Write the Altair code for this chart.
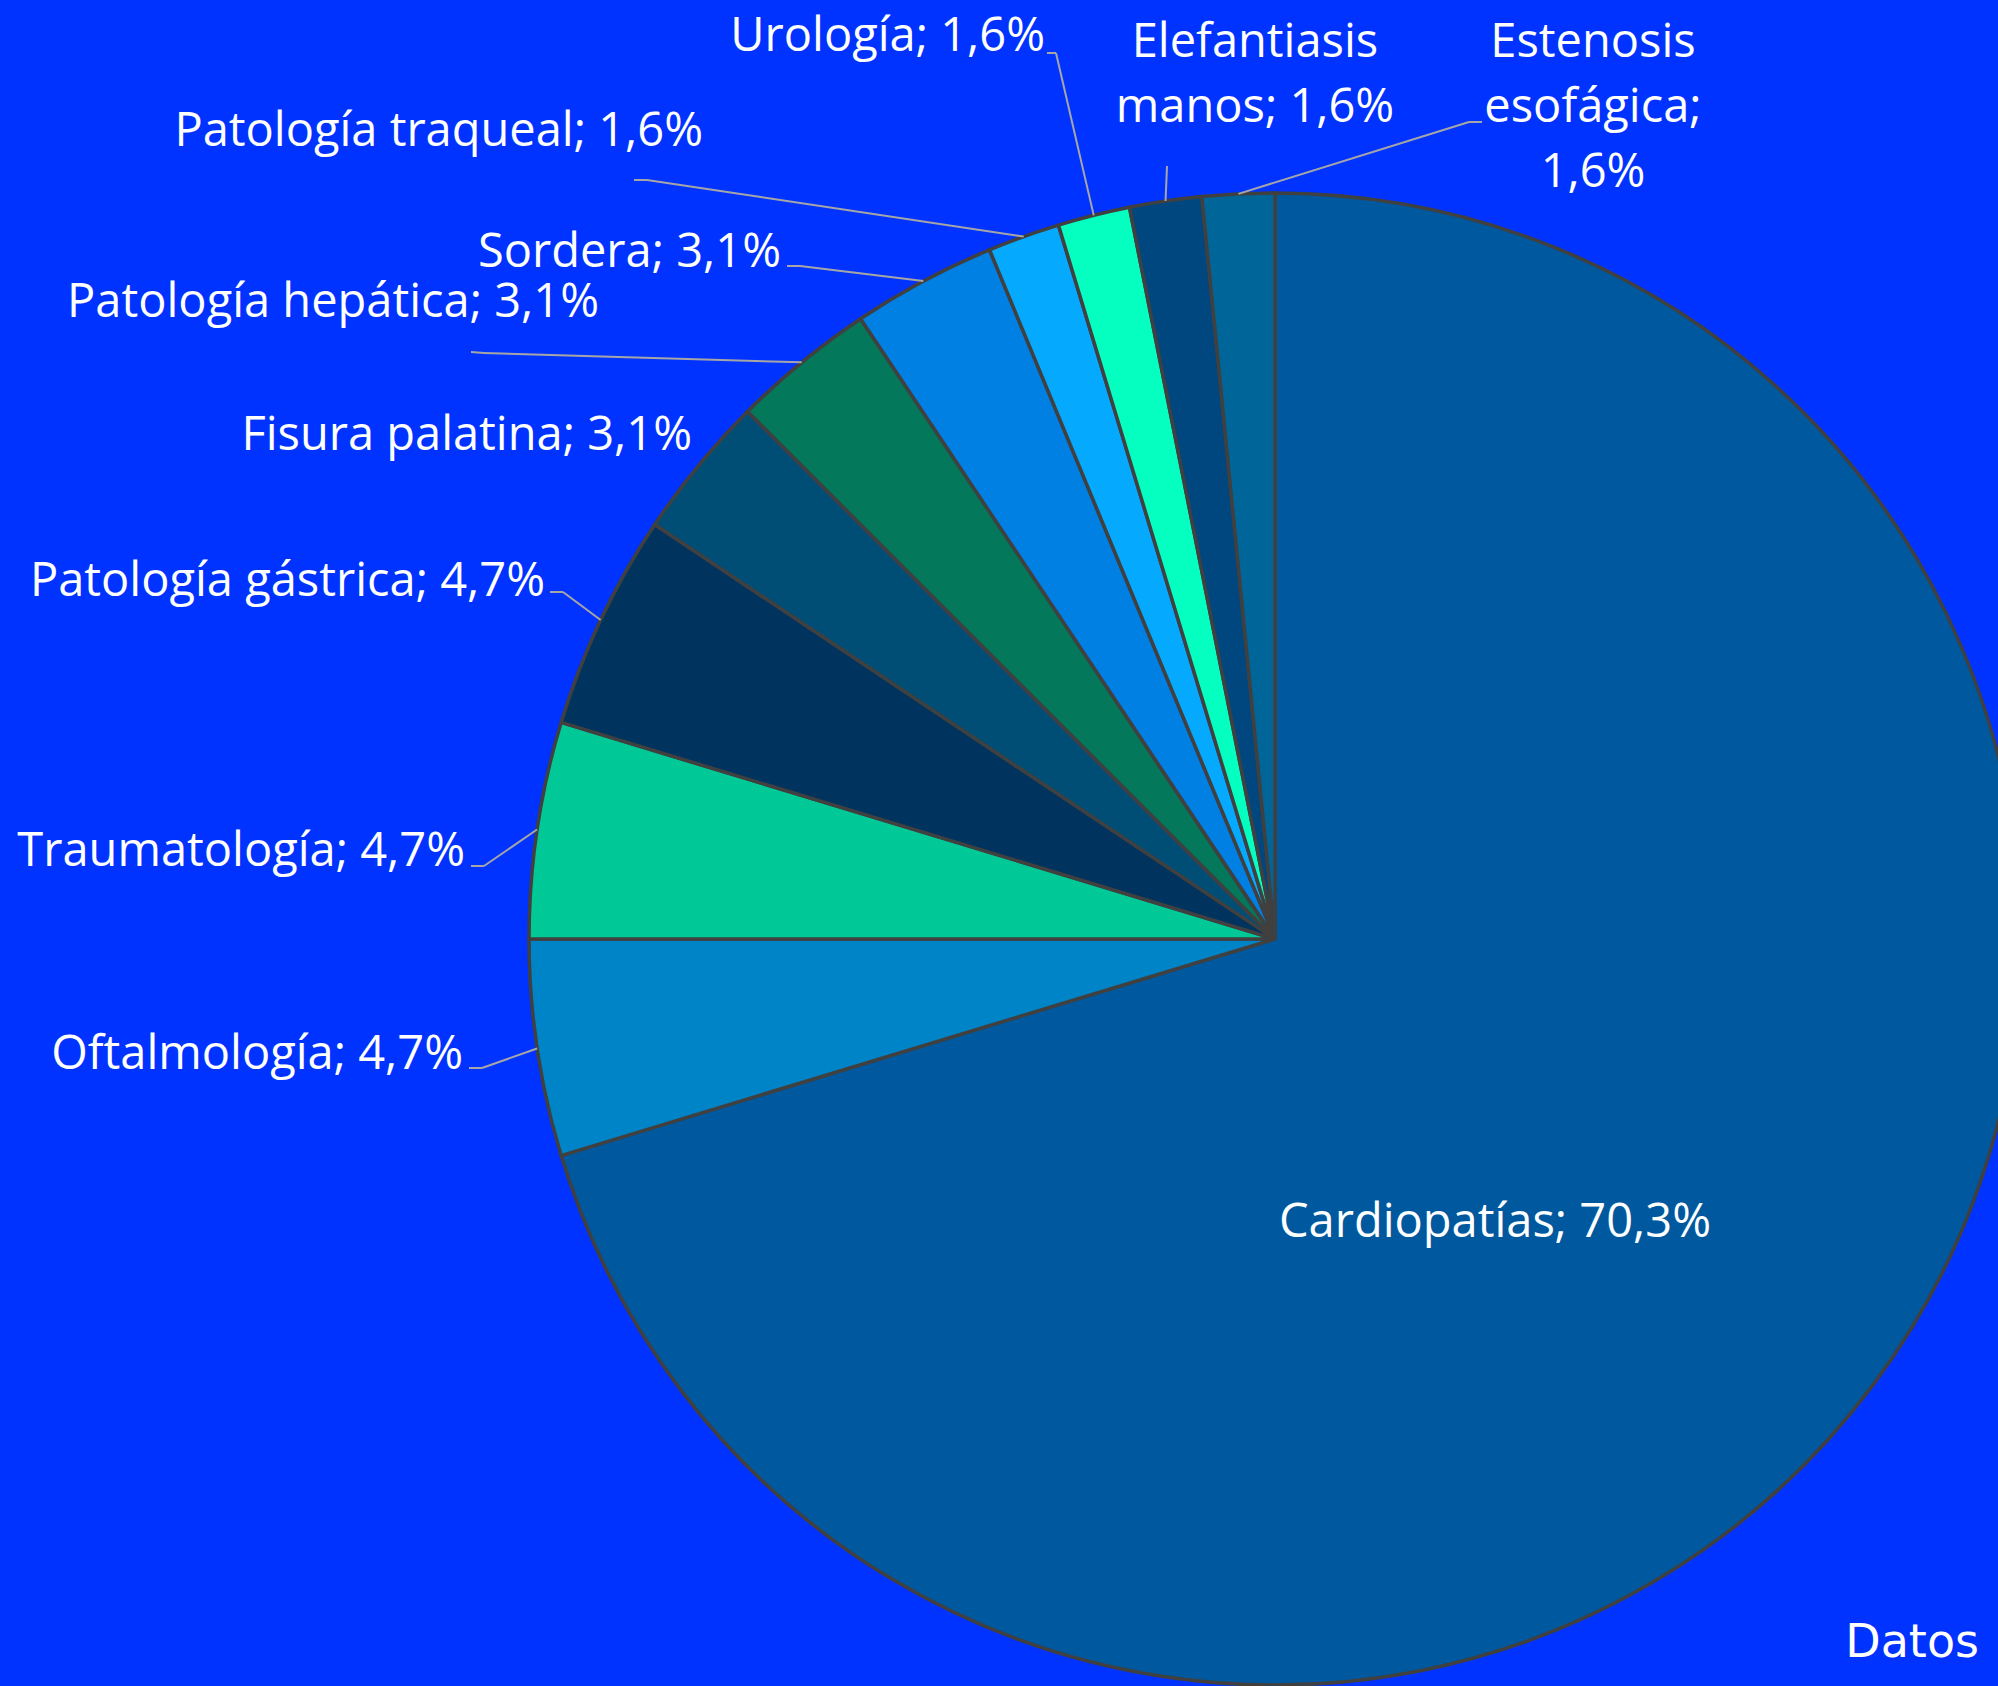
import math
import altair as alt
import pandas as pd

# ---------------- data ----------------
names = ["Cardiopatías", "Oftalmología", "Traumatología", "Patología gástrica",
         "Fisura palatina", "Patología hepática", "Sordera", "Patología traqueal",
         "Urología", "Elefantiasis manos", "Estenosis esofágica"]
counts = [45, 3, 3, 3, 2, 2, 2, 1, 1, 1, 1]
colors = ["#00589E", "#0084C8", "#00C896", "#00345E", "#004E75", "#03785A",
          "#0080E3", "#05AAFF", "#05FFC0", "#00467F", "#006699"]

# ---------------- layout ----------------
W, H = 1998, 1686
CX, CY, R = 1275, 939, 746
FONT = "Open Sans"
FS = 47
LH = 65
BG = "#0033FF"

# label placement: lines, x, first baseline y, align
label_layout = {
    "Cardiopatías":        (None, 1495, 1237, "center"),
    "Oftalmología":        (None, 463, 1069, "right"),
    "Traumatología":       (None, 465, 866, "right"),
    "Patología gástrica":  (None, 545, 596, "right"),
    "Fisura palatina":     (None, 692, 450, "right"),
    "Patología hepática":  (None, 599, 317, "right"),
    "Sordera":             (None, 781, 267, "right"),
    "Patología traqueal":  (None, 703, 146, "right"),
    "Urología":            (None, 1045, 51, "right"),
    "Elefantiasis manos":  (["Elefantiasis", "manos; {p}"], 1255, 57, "center"),
    "Estenosis esofágica": (["Estenosis", "esofágica;", "{p}"], 1593, 57, "center"),
}
# leader lines: start point, elbow point (end is on the slice edge)
leader_layout = {
    "Oftalmología":        ((469, 1068), (482, 1068)),
    "Traumatología":       ((471, 866), (484, 866)),
    "Patología gástrica":  ((550, 592), (563, 592)),
    "Patología hepática":  ((471, 352), (484, 353)),
    "Sordera":             ((787, 266), (800, 266)),
    "Patología traqueal":  ((634, 180), (647, 180)),
    "Urología":            ((1047, 53), (1056, 53)),
    "Elefantiasis manos":  ((1167, 166), (1167, 166)),
    "Estenosis esofágica": ((1482, 122), (1469, 122)),
}

total = sum(counts)
pcts = [f"{c / total * 100:.1f}".replace(".", ",") + "%" for c in counts]

pie_df = pd.DataFrame({"name": names, "value": counts, "idx": list(range(len(names)))})

# text rows
rows_right, rows_center = [], []
for n, p in zip(names, pcts):
    lines, x, y, align = label_layout[n]
    if lines is None:
        lines = [f"{n}; {p}"]
    else:
        lines = [l.format(p=p) for l in lines]
    for i, l in enumerate(lines):
        row = {"x": x, "y": y + i * LH, "text": l}
        (rows_right if align == "right" else rows_center).append(row)

# leader segments
seg = []
cum = 0
for n, c in zip(names, counts):
    mid = (cum + c / 2) / total
    cum += c
    if n not in leader_layout:
        continue
    a = 2 * math.pi * mid
    ex, ey = CX + R * math.sin(a), CY - R * math.cos(a)
    (sx, sy), (bx, by) = leader_layout[n]
    seg.append({"x": sx, "y": sy, "x2": bx, "y2": by})
    seg.append({"x": bx, "y": by, "x2": ex, "y2": ey})
seg_df = pd.DataFrame(seg)

pie = alt.Chart(pie_df).mark_arc(radius=R, stroke="#404040", strokeWidth=3.5).encode(
    theta=alt.Theta("value:Q", stack=True),
    color=alt.Color("name:N", scale=alt.Scale(domain=names, range=colors), legend=None),
    order=alt.Order("idx:Q"),
    x=alt.value(CX),
    y=alt.value(CY),
)

leaders = alt.Chart(seg_df).mark_rule(color="#A6A6A6", strokeWidth=2).encode(
    x=alt.X("x:Q", scale=None, axis=None),
    y=alt.Y("y:Q", scale=None, axis=None),
    x2="x2:Q",
    y2="y2:Q",
)

def text_layer(rows, align):
    return alt.Chart(pd.DataFrame(rows)).mark_text(
        align=align, baseline="alphabetic", font=FONT, fontSize=FS, color="white"
    ).encode(
        x=alt.X("x:Q", scale=None, axis=None),
        y=alt.Y("y:Q", scale=None, axis=None),
        text="text:N",
    )

datos = alt.Chart(pd.DataFrame({"t": ["Datos"]})).mark_text(
    align="right", baseline="alphabetic", font="DejaVu Sans", fontSize=46, color="white"
).encode(x=alt.value(1979), y=alt.value(1657), text="t:N")

chart = alt.layer(
    pie, leaders, text_layer(rows_right, "right"), text_layer(rows_center, "center"), datos
).properties(
    width=W, height=H, padding=0, autosize=alt.AutoSizeParams(type="none"), background=BG
).configure_view(stroke=None)

chart.save("out.html", embed_options={"renderer": "svg", "actions": False})
